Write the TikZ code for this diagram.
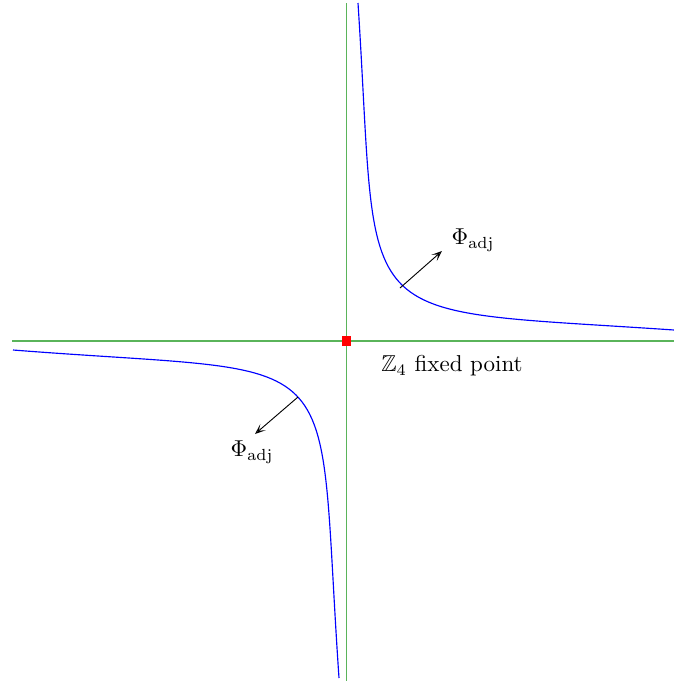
\documentclass[tikz,border=0pt]{standalone}
\usepackage{amssymb}
\usetikzlibrary{arrows.meta}
\definecolor{axisgreen}{RGB}{90,180,90}
\begin{document}
\begin{tikzpicture}[x=0.435pt,y=-0.435pt,
  axis/.style={axisgreen,line width=0.45pt},
  branch/.style={blue,line width=0.5pt},
  flow/.style={black,line width=0.4pt,-{Stealth[open,length=4.6pt,width=3.6pt,inset=2.4pt]}},
  lbl/.style={inner sep=0pt,font=\normalsize}]
\useasboundingbox (0,0) rectangle (674,681);
% axes
\coordinate (vtop) at (346.5,3);
\coordinate (vbot) at (346.5,681);
\coordinate (hleft) at (12,341);
\coordinate (hright) at (674,341);
\draw[axis] (vtop) -- (vbot);
\draw[axis] (hleft) -- (hright);
% upper-right branch
\coordinate (ua) at (358,3);
\coordinate (ub) at (674,330);
\draw[branch] (ua) .. controls (379.6,335) and (342,307.4) .. (ub);
% lower-left branch
\coordinate (la) at (13,350);
\coordinate (lb) at (339,678);
\draw[branch] (la) .. controls (357,377) and (315.3,334) .. (lb);
% fixed point
\node[fill=red,minimum size=4.3pt,inner sep=0pt] (fp) at (346.5,341) {};
\node[lbl] (fplabel) at (452,366) {$\mathbb{Z}_4$ fixed point};
% flows
\coordinate (us) at (400,288);
\coordinate (ue) at (442,251);
\draw[flow] (us) -- (ue);
\node[lbl] (uphi) at (473,240) {$\Phi_{\mathrm{adj}}$};
\coordinate (ls) at (298,397);
\coordinate (le) at (255,434);
\draw[flow] (ls) -- (le);
\node[lbl] (lphi) at (252,452) {$\Phi_{\mathrm{adj}}$};
\end{tikzpicture}
\end{document}
